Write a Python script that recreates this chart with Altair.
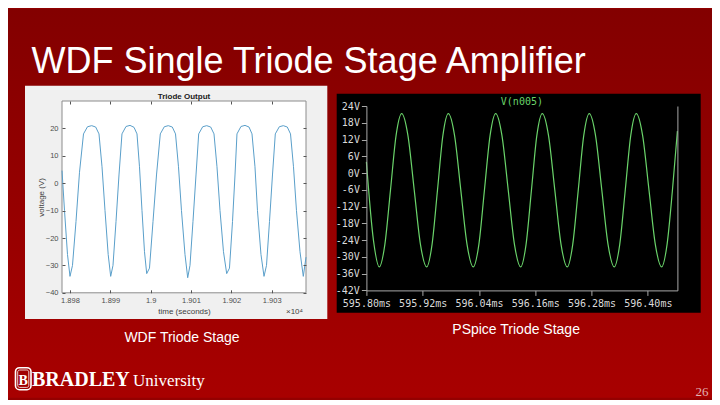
import altair as alt
import pandas as pd

# ---------------- data ----------------
# Left panel: WDF triode output, time in units of x10^4 s, voltage in V
wdf_time = [1.897802, 1.897864, 1.897938, 1.898000,
            1.898062, 1.898149, 1.898236, 1.898335, 1.898434, 1.898538, 1.898637, 1.898719, 1.898794, 1.898868, 1.898947, 1.899009,
            1.899066, 1.899141, 1.899215, 1.899289, 1.899389, 1.899488, 1.899587, 1.899661, 1.899723, 1.899785, 1.899847, 1.899902,
            1.899971, 1.900058, 1.900145, 1.900239, 1.900338, 1.900437, 1.900536, 1.900616, 1.900690, 1.900764, 1.900851, 1.900918,
            1.900975, 1.901049, 1.901124, 1.901191, 1.901290, 1.901389, 1.901488, 1.901570, 1.901644, 1.901719, 1.901805, 1.901885,
            1.901954, 1.902029, 1.902091, 1.902140, 1.902239, 1.902339, 1.902438, 1.902512, 1.902586, 1.902648, 1.902735, 1.902810,
            1.902872, 1.902946, 1.903020, 1.903090, 1.903189, 1.903288, 1.903387, 1.903467, 1.903541, 1.903615, 1.903702, 1.903784,
            1.903851]
wdf_volt = [4.6, -10, -26, -34,
            -30, -14, 4, 18, 20.6, 21.0, 20.5, 18, 6, -10, -26, -34,
            -30, -14, 3, 18, 20.7, 21.1, 20.4, 18, 6, -10, -25, -33,
            -31, -14, 3, 18, 20.6, 21.0, 20.5, 18, 6, -10, -26, -34.5,
            -30, -14, 3, 18, 20.6, 21.0, 20.5, 18, 6, -10, -25, -33,
            -31, -14, 3, 18, 20.7, 21.1, 20.5, 18, 6, -10, -26, -34,
            -30, -14, 3, 18, 20.6, 21.0, 20.5, 18, 6, -10, -25, -34,
            -27]

# Right panel: PSpice V(n005), time in ms, voltage in V
ps_time = [595.8000, 595.8150, 595.8275,
           595.8394, 595.8514, 595.8633, 595.8752, 595.8885, 595.9019, 595.9152, 595.9285,
           595.9400, 595.9516, 595.9631, 595.9746, 595.9879, 596.0012, 596.0145, 596.0278,
           596.0398, 596.0517, 596.0637, 596.0756, 596.0889, 596.1023, 596.1156, 596.1289,
           596.1404, 596.1519, 596.1634, 596.1749, 596.1882, 596.2016, 596.2149, 596.2282,
           596.2399, 596.2517, 596.2634, 596.2751, 596.2884, 596.3018, 596.3151, 596.3284,
           596.3401, 596.3519, 596.3636, 596.3753, 596.3888, 596.4024, 596.4159, 596.4294,
           596.4410, 596.4525, 596.4630]
ps_volt = [4.0, -24.0, -33.6,
           -25.5, -6.0, 13.5, 21.3, 13.5, -6.0, -25.5, -33.6,
           -25.5, -6.0, 13.5, 21.3, 13.5, -6.0, -25.5, -33.6,
           -25.5, -6.0, 13.5, 21.3, 13.5, -6.0, -25.5, -33.6,
           -25.5, -6.0, 13.5, 21.3, 13.5, -6.0, -25.5, -33.6,
           -25.5, -6.0, 13.5, 21.3, 13.5, -6.0, -25.5, -33.6,
           -25.5, -6.0, 13.5, 21.3, 13.5, -6.0, -25.5, -33.6,
           -25.5, -6.0, 15.0]

wdf_xticks = [1.898, 1.899, 1.900, 1.901, 1.902, 1.903]
wdf_yticks = [-40, -30, -20, -10, 0, 10, 20]
ps_xticks = [595.80, 595.92, 596.04, 596.16, 596.28, 596.40]
ps_yticks = [24, 18, 12, 6, 0, -6, -12, -18, -24, -30, -36, -42]

slide_title = "WDF Single Triode Stage Amplifier"
left_caption = "WDF Triode Stage"
right_caption = "PSpice Triode Stage"
plot_title = "Triode Output"
ps_title = "V(n005)"
page_no = "26"

# ---------------- helpers ----------------
SANS = "Liberation Sans"
SERIF = "Liberation Serif"
MONO = "DejaVu Sans Mono"
one = pd.DataFrame({"a": [0]})


def box(x, x2, y, y2, **kw):
    return alt.Chart(one).mark_rect(**kw).encode(
        x=alt.value(x), x2=alt.value(x2), y=alt.value(y), y2=alt.value(y2))


def label(text, x, y, **kw):
    return alt.Chart(one).mark_text(text=text, **kw).encode(x=alt.value(x), y=alt.value(y))


# ---------------- left panel (MATLAB figure) ----------------
LW, LH = 244, 191.8
wdf = pd.DataFrame({"t": wdf_time, "v": wdf_volt})
xs = alt.Scale(domain=[1.897802, 1.903851], nice=False, zero=False)
ys = alt.Scale(domain=[-40, 30], nice=False, zero=False)

ax_common = dict(domain=False, tickSize=3, offset=-3, tickColor="#555555", zindex=1,
                 labelFont=SANS, labelFontSize=7.5, labelColor="#4d4d4d",
                 labelOverlap=False, labelFlush=False,
                 titleFont=SANS, titleFontSize=8, titleColor="#404040", titleFontWeight="normal",
                 grid=False)

# slide background: canvas is 704 x 389, starting at page (8, 8); left plot origin at page (62, 100.3)
bg = box(-54, 650, -92.3, 296.7, fill=alt.Gradient(
    gradient="linear", x1=0, x2=0, y1=0, y2=1,
    stops=[alt.GradientStop(color="#830000", offset=0),
           alt.GradientStop(color="#990000", offset=0.6),
           alt.GradientStop(color="#a80000", offset=1)]))
frame = box(-37, 265.3, -15.3, 218, fill="#f0f0f0")
plot_bg = box(0, LW, 0, LH, fill="white", stroke="#8c8c8c", strokeWidth=1)

wdf_line = alt.Chart(wdf).mark_line(color="#5a9fca", strokeWidth=1).encode(
    x=alt.X("t:Q", scale=xs, axis=alt.Axis(orient="bottom", values=wdf_xticks, format=".4~f",
                                            labelPadding=4, title="time (seconds)", titlePadding=3,
                                            **ax_common)),
    y=alt.Y("v:Q", scale=ys, axis=alt.Axis(orient="left", values=wdf_yticks, labelPadding=4,
                                            title="voltage (V)", titlePadding=0, **ax_common)))

wdf_box_axes = alt.Chart(wdf).mark_line(opacity=0).encode(
    x=alt.X("t:Q", scale=xs, axis=alt.Axis(orient="top", values=wdf_xticks, labels=False, title=None, **ax_common)),
    y=alt.Y("v:Q", scale=ys, axis=alt.Axis(orient="right", values=wdf_yticks, labels=False, title=None, **ax_common)))

left = alt.layer(
    bg, frame, plot_bg, wdf_line, wdf_box_axes,
    label(plot_title, LW / 2, -2, align="center", baseline="alphabetic", font=SANS, fontSize=8,
          fontWeight="bold", color="#202020"),
    label("\u00d710\u2074", 241, 212.7, align="right", baseline="alphabetic", font=SANS, fontSize=8,
          color="#404040"),
    label(slide_title, -30.5, -27.8, align="left", baseline="alphabetic", font=SANS, fontSize=36,
          color="white"),
    label(left_caption, 62.4, 240.5, align="left", baseline="alphabetic", font=SANS, fontSize=14,
          color="white"),
    label(right_caption, 390.3, 232.7, align="left", baseline="alphabetic", font=SANS, fontSize=14,
          color="white"),
    box(-46.5, -31, 266.7, 288.7, fill="#a00000", stroke="white", strokeWidth=1.6, cornerRadius=4),
    box(-44.3, -33.2, 269, 286.4, fill="#a00000", stroke="white", strokeWidth=0.8, cornerRadius=2),
    label("B", -38.75, 283.5, align="center", baseline="alphabetic", font=SERIF, fontSize=14,
          fontWeight="bold", color="white"),
    label("BRADLEY", -30, 285, align="left", baseline="alphabetic", font=SERIF, fontSize=20,
          fontWeight="bold", color="white"),
    label("University", 71, 285, align="left", baseline="alphabetic", font=SERIF, fontSize=17,
          color="white"),
    label(page_no, 646.4, 295.1, align="right", baseline="alphabetic", font="Liberation Sans Narrow",
          fontSize=13, color="#e0b4b4"),
).resolve_axis(x="independent", y="independent").properties(width=LW, height=LH)

# ---------------- right panel (PSpice plot) ----------------
RW, RH = 311, 189.4
ps = pd.DataFrame({"t": ps_time, "v": ps_volt})
xs2 = alt.Scale(domain=[595.80, 596.463], nice=False, zero=False)
ys2 = alt.Scale(domain=[-42, 24], nice=False, zero=False, range=[RH, 5])

ps_ax = dict(domainColor="#a8a8a8", tickColor="#a8a8a8", tickSize=5, zindex=1, grid=False,
             labelFont=MONO, labelFontSize=10, labelColor="#dadada", title=None,
             labelOverlap=False, labelFlush=False)

black = box(-29.7, 334.3, -7.3, 211.7, fill="black")
ps_line = alt.Chart(ps).mark_line(color="#6ad36a", strokeWidth=1.2, interpolate="monotone").encode(
    x=alt.X("t:Q", scale=xs2, axis=alt.Axis(values=ps_xticks, labelPadding=3,
                                             labelExpr="format(datum.value, '.2f') + 'ms'", **ps_ax)),
    y=alt.Y("v:Q", scale=ys2, axis=alt.Axis(values=ps_yticks, labelPadding=2,
                                             labelExpr="datum.value + 'V'", **ps_ax)))
ps_border = alt.Chart(ps).mark_line(opacity=0).encode(
    y=alt.Y("v:Q", scale=ys2, axis=alt.Axis(orient="right", labels=False, ticks=False, title=None,
                                             domainColor="#a8a8a8", zindex=1, grid=False)))

right = alt.layer(
    black, ps_line, ps_border,
    label(ps_title, RW / 2, 4.4, align="center", baseline="alphabetic", font=MONO, fontSize=10,
          color="#6ad36a"),
).resolve_axis(y="independent").properties(width=RW, height=RH)

chart = alt.hconcat(left, right, spacing=60.4, bounds="flush").properties(
    padding=0, background="#940000").configure_view(strokeWidth=0)

chart.save("out.html", embed_options={"renderer": "svg", "actions": False})
